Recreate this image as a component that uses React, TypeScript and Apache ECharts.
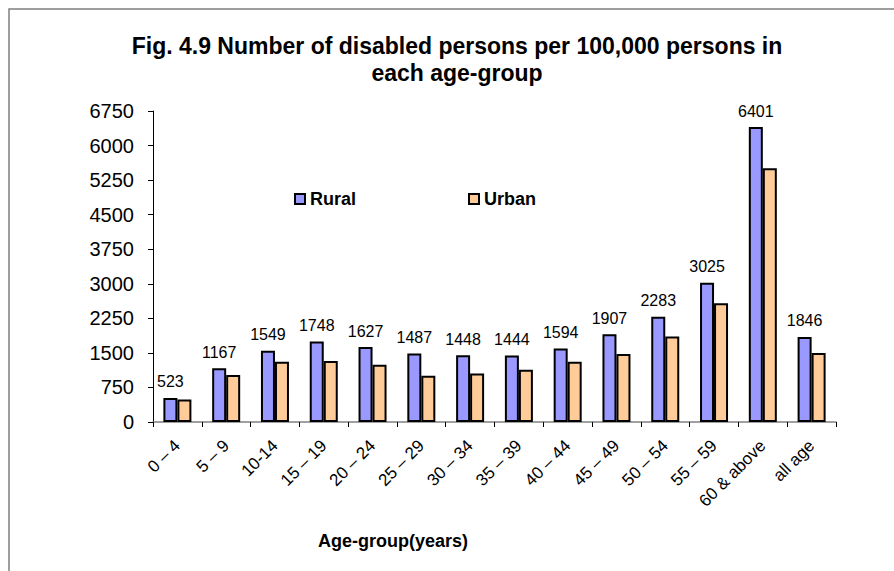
import React, { useEffect, useRef } from "react";
import * as echarts from "echarts";

const categories = [
  "0 – 4", "5 – 9", "10-14", "15 – 19", "20 – 24", "25 – 29", "30 – 34",
  "35 – 39", "40 – 44", "45 – 49", "50 – 54", "55 – 59", "60 & above", "all age",
];
const rural = [523, 1167, 1549, 1748, 1627, 1487, 1448, 1444, 1594, 1907, 2283, 3025, 6401, 1846];
const urban = [490, 1020, 1310, 1325, 1245, 1005, 1055, 1135, 1310, 1475, 1855, 2575, 5505, 1500];
const yTicks = { min: 0, max: 6750, interval: 750 };
const titleText = "Fig. 4.9 Number of disabled persons per 100,000 persons in\neach age-group";
const xTitle = "Age-group(years)";

const FONT = "'Liberation Sans', Arial, sans-serif";

export default function App() {
  const ref = useRef<HTMLDivElement>(null);
  useEffect(() => {
    if (!ref.current) return;
    const chart = echarts.init(ref.current, undefined, { renderer: "svg" });
    chart.setOption({
      animation: false,
      backgroundColor: "#ffffff",
      title: {
        text: titleText,
        left: 452,
        top: 27,
        textAlign: "center",
        textStyle: { fontFamily: FONT, fontSize: 23, fontWeight: "bold", color: "#000", lineHeight: 27, align: "center" },
      },
      legend: {
        left: 289,
        top: 185,
        icon: "rect",
        itemWidth: 10,
        itemHeight: 10,
        itemGap: 112,
        data: ["Rural", "Urban"],
        textStyle: { fontFamily: FONT, fontSize: 18, fontWeight: "bold", color: "#000" },
      },
      grid: { left: 153, right: 58, top: 111, bottom: 149, containLabel: false },
      xAxis: {
        type: "category",
        data: categories,
        axisLine: { lineStyle: { color: "#808080", width: 1.5 } },
        axisTick: { show: true, length: 5, lineStyle: { color: "#000" } },
        axisLabel: { rotate: 45, fontFamily: FONT, fontSize: 17, color: "#000", margin: 21, interval: 0 },
      },
      yAxis: {
        type: "value",
        min: yTicks.min,
        max: yTicks.max,
        interval: yTicks.interval,
        axisLine: { show: true, lineStyle: { color: "#000", width: 1 } },
        axisTick: { show: true, length: 5, lineStyle: { color: "#000" } },
        splitLine: { show: false },
        axisLabel: { fontFamily: FONT, fontSize: 20, color: "#000", margin: 19, formatter: (v: number) => String(v) },
      },
      series: [
        {
          name: "Rural",
          type: "bar",
          data: rural,
          barWidth: 14,
          barGap: "0%",
          itemStyle: { color: "#9999FF", borderColor: "#000", borderWidth: 2 },
          label: { show: true, position: "top", distance: 8, fontFamily: FONT, fontSize: 16, color: "#000" },
        },
        {
          name: "Urban",
          type: "bar",
          data: urban,
          barWidth: 14,
          barGap: "0%",
          itemStyle: { color: "#FFCC99", borderColor: "#000", borderWidth: 2 },
        },
      ],
      graphic: [
        {
          type: "rect",
          shape: { x: 9, y: 9, width: 1000, height: 1000 },
          style: { fill: "none", stroke: "#7f7f7f", lineWidth: 1.5 },
          silent: true,
        },
        {
          type: "text",
          x: 393,
          y: 541,
          style: {
            text: xTitle, fontFamily: FONT, fontSize: 18, fontWeight: "bold", fill: "#000",
            textAlign: "center", textVerticalAlign: "middle",
          },
        },
      ],
    });
    return () => chart.dispose();
  }, []);
  return <div ref={ref} style={{ position: "absolute", left: 0, top: 0, width: 894, height: 571 }} />;
}
